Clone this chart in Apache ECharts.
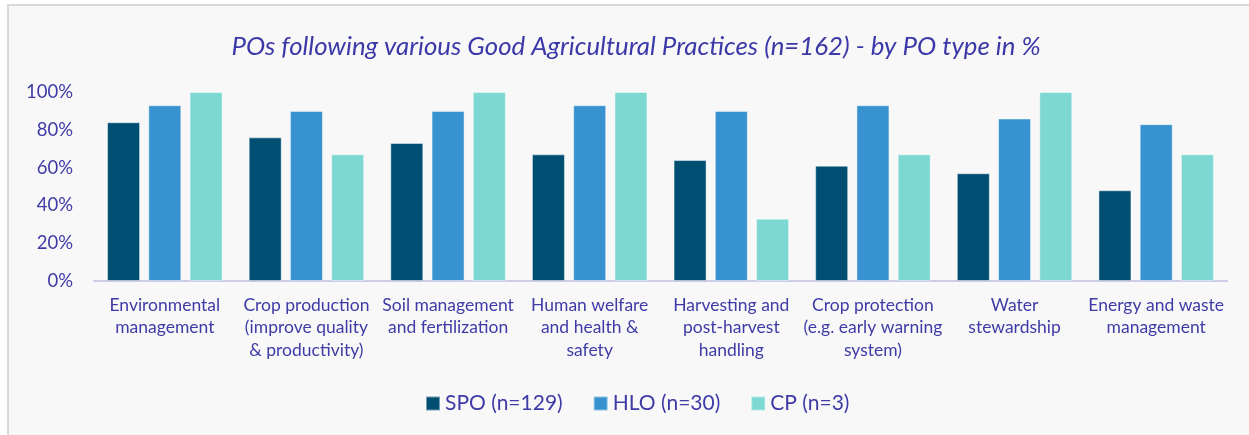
<!DOCTYPE html>
<html>
<head>
<meta charset="utf-8">
<script src="https://cdn.jsdelivr.net/npm/echarts@6/dist/echarts.min.js"></script>
<style>
html,body{margin:0;padding:0;background:#ffffff;}
#chart{width:1249px;height:435px;}
</style>
</head>
<body>
<div id="chart"></div>
<script>
const categories = [
  "Environmental\nmanagement",
  "Crop production\n(improve quality\n& productivity)",
  "Soil management\nand fertilization",
  "Human welfare\nand health &\nsafety",
  "Harvesting and\npost-harvest\nhandling",
  "Crop protection\n(e.g. early warning\nsystem)",
  "Water\nstewardship",
  "Energy and waste\nmanagement"
];
const seriesNames = ["SPO (n=129)", "HLO (n=30)", "CP (n=3)"];
const spoValues = [84, 76, 73, 67, 64, 61, 57, 48];
const hloValues = [93, 90, 90, 93, 90, 93, 86, 83];
const cpValues  = [100, 67, 100, 100, 33, 67, 100, 67];
const yTicks = [0, 20, 40, 60, 80, 100];
const titleText = "POs following various Good Agricultural Practices (n=162) - by PO type in %";

const textColor = "#3f3ba6";
const fontFam = "Lato, 'Open Sans', sans-serif";
const colors = ["#004f73", "#3792cf", "#7dd8d2"];

const chart = echarts.init(document.getElementById('chart'), null, {renderer: 'canvas'});
const values = [spoValues, hloValues, cpValues];

chart.setOption({
  animation: false,
  backgroundColor: '#ffffff',
  graphic: [{
    type: 'rect',
    z: -10,
    shape: {x: 8, y: 5, width: 1260, height: 450},
    style: {fill: '#f8f8f8', stroke: '#d9d9d9', lineWidth: 2}
  }],
  title: {
    text: titleText,
    left: 631,
    textAlign: 'center',
    top: 29,
    textStyle: {
      fontFamily: fontFam,
      fontStyle: 'italic',
      fontWeight: 'normal',
      fontSize: 25.8,
      color: '#3b39a8'
    }
  },
  legend: {
    data: seriesNames,
    left: 420,
    top: 388,
    itemWidth: 14,
    itemHeight: 14,
    itemGap: 30,
    icon: 'rect',
    textStyle: {fontFamily: fontFam, fontSize: 21, color: textColor}
  },
  grid: {left: 94, right: 22, top: 92, bottom: 154, containLabel: false},
  xAxis: {
    type: 'category',
    data: categories,
    axisLine: {show: true, lineStyle: {color: '#cfcbe9', width: 2}},
    axisTick: {show: false},
    axisLabel: {
      interval: 0,
      margin: 13,
      fontFamily: fontFam,
      fontSize: 17.5,
      lineHeight: 22.5,
      color: textColor,
      align: 'center',
      verticalAlign: 'top'
    }
  },
  yAxis: {
    type: 'value',
    min: yTicks[0],
    max: yTicks[yTicks.length - 1],
    interval: 20,
    axisLine: {show: false},
    axisTick: {show: false},
    splitLine: {show: false},
    axisLabel: {
      formatter: '{value}%',
      margin: 21,
      fontFamily: fontFam,
      fontSize: 18.5,
      color: textColor
    }
  },
  series: seriesNames.map((name, i) => ({
    name: name,
    type: 'bar',
    data: values[i],
    barWidth: 33,
    barGap: '25%',
    itemStyle: {
      color: colors[i],
      borderColor: 'rgba(255,255,255,0.45)',
      borderWidth: 1
    }
  }))
});
</script>
</body>
</html>
